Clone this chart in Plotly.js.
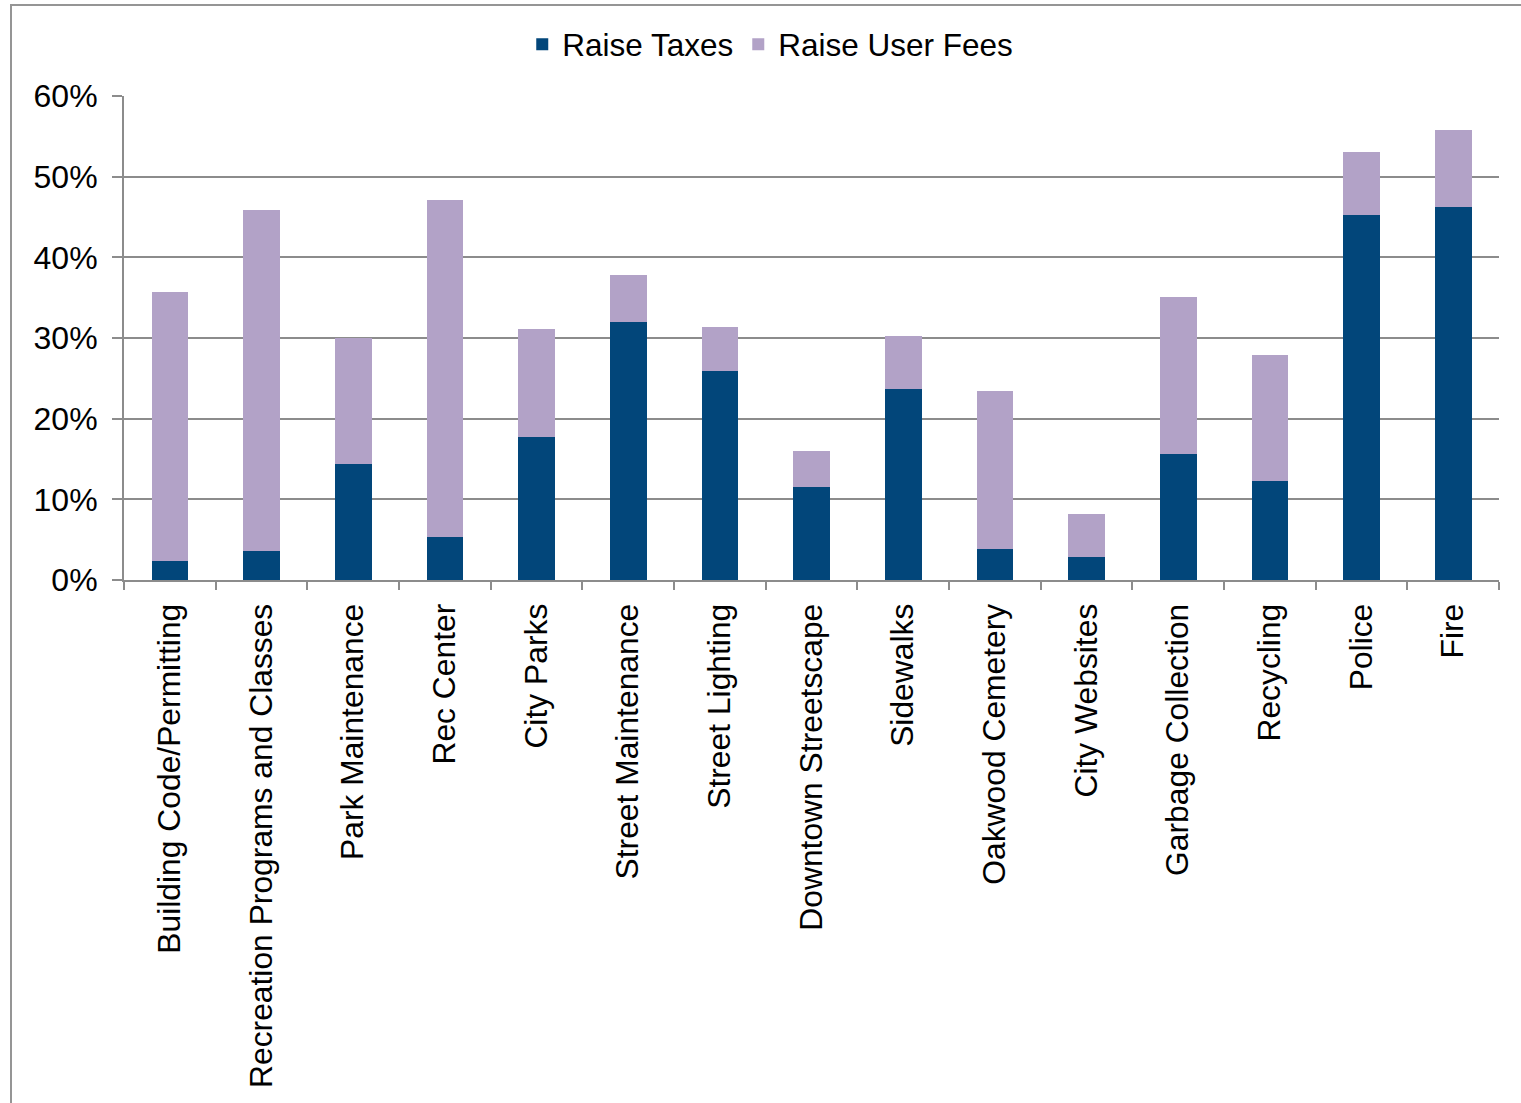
<!DOCTYPE html>
<html>
<head>
<meta charset="utf-8">
<script src="https://cdn.plot.ly/plotly-3.0.1.min.js"></script>
<style>
  html, body { margin: 0; padding: 0; background: #ffffff; }
  #wrap { position: relative; width: 1521px; height: 1103px; overflow: hidden; }
  #chart { width: 1521px; height: 1103px; }
  #frame { position: absolute; left: 10px; top: 4px; width: 1600px; height: 1200px;
           border-top: 2px solid #959595; border-left: 2px solid #959595; pointer-events: none; }
</style>
</head>
<body>
<div id="wrap">
  <div id="chart"></div>
  <div id="frame"></div>
</div>
<script>
const categories = [
  "Building Code/Permitting",
  "Recreation Programs and Classes",
  "Park Maintenance",
  "Rec Center",
  "City Parks",
  "Street Maintenance",
  "Street Lighting",
  "Downtown Streetscape",
  "Sidewalks",
  "Oakwood Cemetery",
  "City Websites",
  "Garbage Collection",
  "Recycling",
  "Police",
  "Fire"
];
const raiseTaxes    = [2.4, 3.6, 14.4, 5.3, 17.7, 32.0, 25.9, 11.5, 23.7, 3.8, 2.9, 15.6, 12.3, 45.2, 46.2];
const raiseUserFees = [33.3, 42.3, 15.6, 41.8, 13.4, 5.8, 5.5, 4.5, 6.5, 19.6, 5.3, 19.5, 15.6, 7.9, 9.6];
const yTickVals  = [0, 10, 20, 30, 40, 50, 60];
const yTickText  = ["0%", "10%", "20%", "30%", "40%", "50%", "60%"];

const FONT = "Liberation Sans, Arial, sans-serif";
const GRID = "#8c8c8c";

const traces = [
  { type: "bar", name: "Raise Taxes", x: categories, y: raiseTaxes,
    marker: { color: "#02467a" }, hoverinfo: "x+y" },
  { type: "bar", name: "Raise User Fees", x: categories, y: raiseUserFees,
    marker: { color: "#b2a2c7" }, hoverinfo: "x+y" }
];

const layout = {
  width: 1521, height: 1103,
  margin: { l: 124, r: 22, t: 96, b: 523, pad: 0 },
  paper_bgcolor: "#ffffff", plot_bgcolor: "#ffffff",
  barmode: "stack", bargap: 0.6,
  font: { family: FONT, size: 32, color: "#000000" },
  showlegend: true,
  legend: { orientation: "h", x: 0.47, xanchor: "center", y: 1.107, yanchor: "middle",
            font: { family: FONT, size: 31.5, color: "#000000" }, itemwidth: 30,
            traceorder: "normal", bgcolor: "rgba(0,0,0,0)" },
  xaxis: {
    type: "category", tickangle: -90, tickson: "boundaries",
    ticks: "outside", ticklen: 8, tickwidth: 2, tickcolor: GRID,
    showline: true, linecolor: GRID, linewidth: 2,
    showgrid: false, zeroline: false,
    tickfont: { family: FONT, size: 31.8, color: "#000000" },
    ticklabelstandoff: 9,
    automargin: false
  },
  yaxis: {
    range: [0, 60], tickvals: yTickVals, ticktext: yTickText,
    ticks: "outside", ticklen: 10, tickwidth: 2, tickcolor: GRID,
    showline: true, linecolor: GRID, linewidth: 2,
    showgrid: true, gridcolor: GRID, gridwidth: 2,
    zeroline: false,
    tickfont: { family: FONT, size: 32, color: "#000000" },
    ticklabelstandoff: 8,
    automargin: false
  }
};

Plotly.newPlot("chart", traces, layout, { displayModeBar: false, staticPlot: true });
</script>
</body>
</html>
